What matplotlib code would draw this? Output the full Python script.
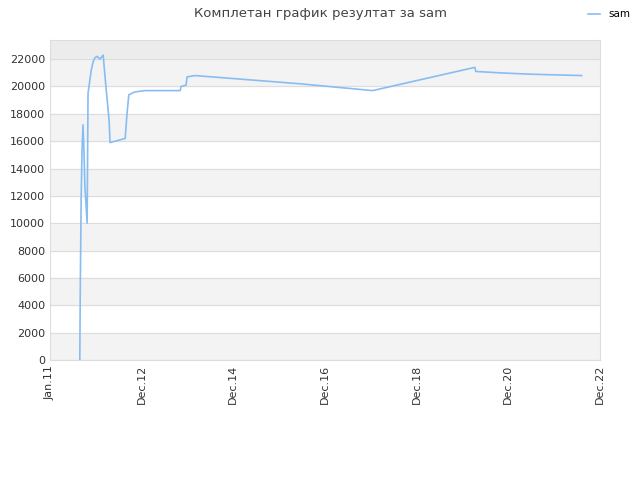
import matplotlib.pyplot as plt

# x positions as fractional years, y = results
years = [2011.65, 2011.66, 2011.68, 2011.70, 2011.72, 2011.74, 2011.76, 2011.81,
         2011.83, 2011.85, 2011.90, 2011.94, 2011.98, 2012.03, 2012.09, 2012.16,
         2012.18, 2012.22, 2012.29, 2012.31, 2012.64, 2012.68, 2012.72, 2012.85,
         2013.07, 2013.84, 2013.86, 2013.97, 2013.99, 2014.16, 2016.45, 2018.04,
         2020.27, 2020.29, 2020.81, 2021.47, 2022.60]
values = [0, 4900, 11900, 15500, 17200, 15500, 12800, 10000,
          19500, 20000, 21200, 21800, 22100, 22200, 22000, 22300,
          21500, 20000, 17500, 15900, 16200, 18000, 19400, 19600,
          19700, 19700, 20000, 20100, 20700, 20800, 20200, 19700,
          21400, 21100, 21000, 20900, 20800]

tick_pos = [2011.0, 2013.0, 2015.0, 2017.0, 2019.0, 2021.0, 2023.0]
tick_labels = ['Jan.11', 'Dec.12', 'Dec.14', 'Dec.16', 'Dec.18', 'Dec.20', 'Dec.22']

fig = plt.figure(figsize=(6.4, 4.8), dpi=100)
ax = fig.add_axes([50/640, 120/480, 550/640, 320/480])

ymax = 23400
for lo in range(0, 22000, 4000):
    ax.axhspan(lo, lo + 2000, color='#f3f3f3', zorder=0)
ax.axhspan(22000, ymax, color='#ececec', zorder=0)
for yv in range(0, 24000, 2000):
    ax.axhline(yv, color='#dddddd', linewidth=0.8, zorder=1)

ax.plot(years, values, color='#88bdf2', linewidth=1.2, label='sam', zorder=2)

ax.set_xlim(2011.0, 2023.0)
ax.set_ylim(0, ymax)
ax.set_xticks(tick_pos)
ax.set_xticklabels(tick_labels, rotation=90)
ax.set_yticks(range(0, 24000, 2000))
ax.tick_params(labelsize=8, colors='#333333', length=0)
for s in ax.spines.values():
    s.set_color('#dddddd')

fig.suptitle('Комплетан график резултат за sam', x=0.5, y=0.985, fontsize=9.5, color='#444444')
fig.legend(loc='upper right', bbox_to_anchor=(1.0, 1.0), frameon=False, fontsize=7.5,
           handlelength=1.2)

plt.savefig('out.png')
